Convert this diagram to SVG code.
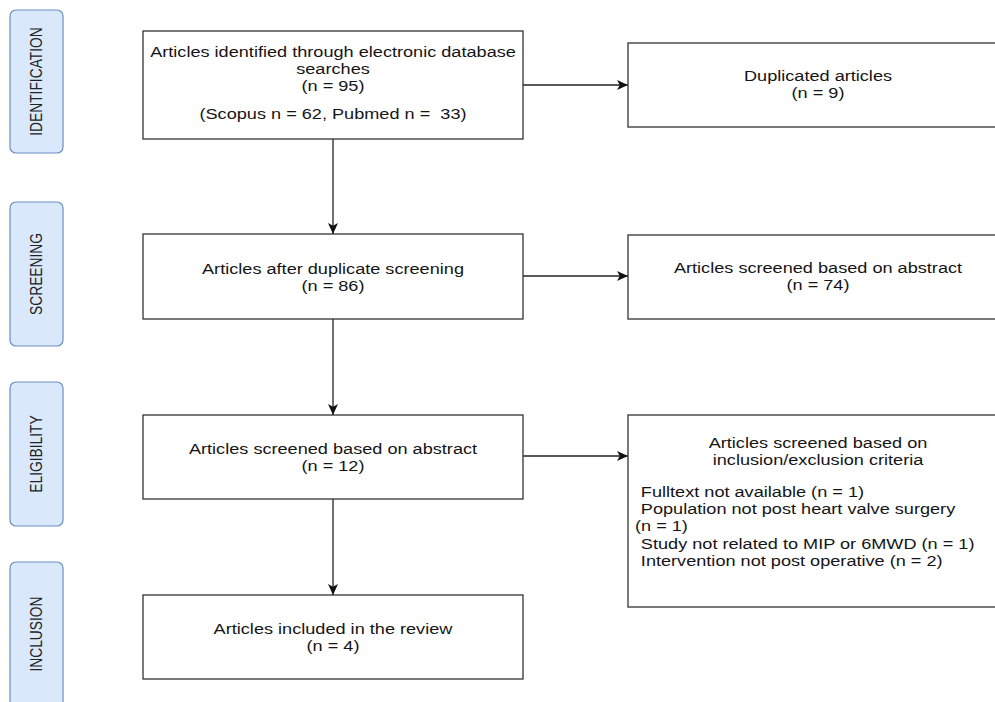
<svg xmlns="http://www.w3.org/2000/svg" width="995" height="702" viewBox="0 0 995 702">
<defs>
<style>
.box{fill:#fff;stroke:#333;stroke-width:1.3}
.lane{fill:#dae8fc;stroke:#6c8ebf;stroke-width:1.2}
.t{font-family:"Liberation Sans",Arial,sans-serif;font-size:15.5px;fill:#151515}
.c{text-anchor:middle}
.lt{font-family:"Liberation Sans",Arial,sans-serif;font-size:13.8px;fill:#222;text-anchor:middle}
.edge{fill:none;stroke:#222;stroke-width:1.3}
</style>
<marker id="arr" markerUnits="userSpaceOnUse" markerWidth="12" markerHeight="11" refX="11" refY="5.5" orient="auto" viewBox="0 0 12 11">
<path d="M0,0.5 L11,5.5 L0,10.5 L2.8,5.5 Z" fill="#111"/>
</marker>
</defs>
<rect width="995" height="702" fill="#fff"/>

<g id="lane-identification">
<rect class="lane" x="10" y="10" width="53" height="143" rx="6"/>
<text class="lt" transform="translate(42 81.5) rotate(-90) scale(1 1.17)" x="0" y="0">IDENTIFICATION</text>
</g>
<g id="lane-screening">
<rect class="lane" x="10" y="202" width="53" height="144" rx="6"/>
<text class="lt" transform="translate(42 274) rotate(-90) scale(1 1.17)" x="0" y="0">SCREENING</text>
</g>
<g id="lane-eligibility">
<rect class="lane" x="10" y="382" width="53" height="144" rx="6"/>
<text class="lt" transform="translate(42 454) rotate(-90) scale(1 1.17)" x="0" y="0">ELIGIBILITY</text>
</g>
<g id="lane-inclusion">
<rect class="lane" x="10" y="562" width="53" height="150" rx="6"/>
<text class="lt" transform="translate(42 634) rotate(-90) scale(1 1.17)" x="0" y="0">INCLUSION</text>
</g>

<g id="connectors">
<path class="edge" d="M523,85 H628" marker-end="url(#arr)"/>
<path class="edge" d="M333,139 V234" marker-end="url(#arr)"/>
<path class="edge" d="M523,276 H628" marker-end="url(#arr)"/>
<path class="edge" d="M333,319 V415" marker-end="url(#arr)"/>
<path class="edge" d="M523,456 H628" marker-end="url(#arr)"/>
<path class="edge" d="M333,499 V595" marker-end="url(#arr)"/>
</g>

<g id="identified">
<rect class="box" x="143" y="31" width="380" height="108"/>
<g transform="translate(333 0) scale(1.17 1)">
<text class="t c" x="0" y="57">Articles identified through electronic database</text>
<text class="t c" x="0" y="74">searches</text>
<text class="t c" x="0" y="91">(n = 95)</text>
<text class="t c" x="0" y="119">(Scopus n = 62, Pubmed n = &#160;33)</text>
</g>
</g>

<g id="duplicated">
<rect class="box" x="628" y="43" width="380" height="84"/>
<g transform="translate(818 0) scale(1.17 1)">
<text class="t c" x="0" y="81">Duplicated articles</text>
<text class="t c" x="0" y="98">(n = 9)</text>
</g>
</g>

<g id="after-duplicate">
<rect class="box" x="143" y="234" width="380" height="85"/>
<g transform="translate(333 0) scale(1.17 1)">
<text class="t c" x="0" y="274">Articles after duplicate screening</text>
<text class="t c" x="0" y="291">(n = 86)</text>
</g>
</g>

<g id="screened-abstract-74">
<rect class="box" x="628" y="235" width="380" height="84"/>
<g transform="translate(818 0) scale(1.17 1)">
<text class="t c" x="0" y="273">Articles screened based on abstract</text>
<text class="t c" x="0" y="290">(n = 74)</text>
</g>
</g>

<g id="screened-abstract-12">
<rect class="box" x="143" y="415" width="380" height="84"/>
<g transform="translate(333 0) scale(1.17 1)">
<text class="t c" x="0" y="454">Articles screened based on abstract</text>
<text class="t c" x="0" y="471">(n = 12)</text>
</g>
</g>

<g id="criteria">
<rect class="box" x="628" y="415" width="380" height="192"/>
<g transform="translate(818 0) scale(1.17 1)">
<text class="t c" x="0" y="448">Articles screened based on</text>
<text class="t c" x="0" y="465">inclusion/exclusion criteria</text>
</g>
<g transform="translate(635 0) scale(1.17 1)">
<text class="t" x="5" y="497">Fulltext not available (n = 1)</text>
<text class="t" x="5" y="514">Population not post heart valve surgery</text>
<text class="t" x="0" y="531">(n = 1)</text>
<text class="t" x="5" y="549">Study not related to MIP or 6MWD (n = 1)</text>
<text class="t" x="5" y="566">Intervention not post operative (n = 2)</text>
</g>
</g>

<g id="included">
<rect class="box" x="143" y="595" width="380" height="84"/>
<g transform="translate(333 0) scale(1.17 1)">
<text class="t c" x="0" y="634">Articles included in the review</text>
<text class="t c" x="0" y="651">(n = 4)</text>
</g>
</g>
</svg>
